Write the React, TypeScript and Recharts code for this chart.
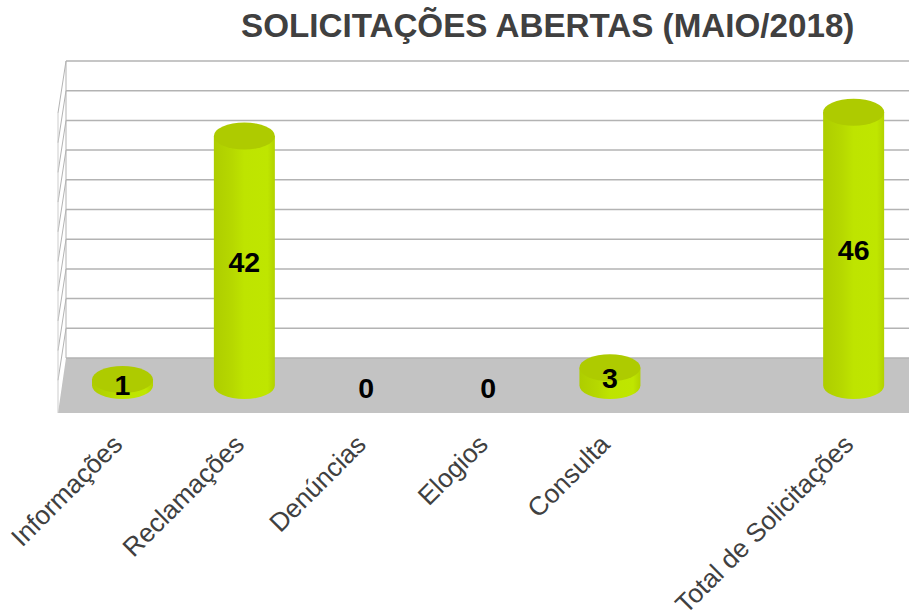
import React from "react";
import { BarChart, Bar, XAxis, YAxis, LabelList, CartesianGrid } from "recharts";

const categories = ["Informações", "Reclamações", "Denúncias", "Elogios", "Consulta", "", "Total de Solicitações"];
const values: (number | null)[] = [1, 42, 0, 0, 3, null, 46];
const yTicks = [0, 5, 10, 15, 20, 25, 30, 35, 40, 45, 50];
const titleText = "SOLICITAÇÕES ABERTAS (MAIO/2018)";

const data = categories.map((name, i) => ({ name, value: values[i] }));

const FONT = '"Liberation Sans", Arial, sans-serif';
const DEPTH = 27.5;
const WALL_X = 66;
const FRONT_X = 58;
const RIGHT = 915;
const GRID = "#b3b3b3";
const TOP = 88.5;
const BOTTOM = 385.5;

function Cylinder(props: any) {
  const { x, y, width, height, value } = props;
  if (value == null || value <= 0) return null;
  const rx = width / 2;
  const ry = 13.5;
  const base = y + height;
  return (
    <g>
      <path
        d={`M${x},${y} L${x},${base} A${rx},${ry} 0 0 0 ${x + width},${base} L${x + width},${y} Z`}
        fill="url(#cylBody)"
      />
      <ellipse cx={x + rx} cy={y} rx={rx} ry={ry} fill="#aecb00" />
    </g>
  );
}

function wallLine(props: any) {
  const y = props.y1;
  const back = y - DEPTH;
  const front = y + DEPTH;
  const isFloor = Math.abs(y - BOTTOM) < 1;
  const isTop = Math.abs(y - TOP) < 1;
  return (
    <g key={`wall-${y}`}>
      {isFloor && (
        <polygon
          points={`${WALL_X},${back} ${RIGHT},${back} ${RIGHT},${front} ${FRONT_X},${front}`}
          fill="#c3c3c3"
        />
      )}
      {isTop && (
        <>
          <line x1={WALL_X} y1={back} x2={WALL_X} y2={back + 297} stroke={GRID} strokeWidth={1} />
          <line x1={FRONT_X} y1={front - 3} x2={FRONT_X} y2={front + 297} stroke="#cccccc" strokeWidth={1} />
        </>
      )}
      <line x1={WALL_X} y1={back} x2={RIGHT} y2={back} stroke={GRID} strokeWidth={1.5} />
      {!isFloor && (
        <line x1={WALL_X} y1={back} x2={FRONT_X} y2={front - 3} stroke={GRID} strokeWidth={1} />
      )}
    </g>
  );
}

function CategoryTick(props: any) {
  const { x, payload } = props;
  if (!payload.value) return null;
  return (
    <text
      x={x + 1}
      y={446}
      transform={`rotate(-45 ${x + 1} 446)`}
      textAnchor="end"
      fontFamily={FONT}
      fontSize={26.2}
      fill="#404040"
    >
      {payload.value}
    </text>
  );
}

function ValueLabel(props: any) {
  const { x, y, width, height, value } = props;
  if (value == null) return null;
  return (
    <text
      x={x + width / 2}
      y={y + height / 2 + (value > 1 ? 1.5 : 2)}
      textAnchor="middle"
      dominantBaseline="central"
      fontFamily={FONT}
      fontWeight={700}
      fontSize={28.5}
      fill="#000"
    >
      {value}
    </text>
  );
}

export default function App() {
  return (
    <div style={{ position: "relative", width: 909, height: 616, overflow: "hidden", background: "#fff" }}>
      <style>{"body{margin:0}"}</style>
      <div
        style={{
          position: "absolute",
          left: 241,
          top: 6,
          fontFamily: FONT,
          fontWeight: 700,
          fontSize: 33.2,
          lineHeight: "40px",
          color: "#404040",
          whiteSpace: "nowrap",
        }}
      >
        {titleText}
      </div>
      <BarChart
        width={915}
        height={616}
        data={data}
        barSize={61}
        margin={{ top: TOP, right: 0, bottom: 0.5, left: 62 }}
        style={{ position: "absolute", left: 0, top: 0 }}
      >
        <defs>
          <linearGradient id="cylBody" x1="0" y1="0" x2="1" y2="0">
            <stop offset="0" stopColor="#aecd00" />
            <stop offset="0.3" stopColor="#b6d800" />
            <stop offset="0.5" stopColor="#bee400" />
            <stop offset="0.88" stopColor="#bfe600" />
            <stop offset="1" stopColor="#b2d200" />
          </linearGradient>
        </defs>
        <CartesianGrid vertical={false} horizontal={wallLine} horizontalValues={yTicks} />
        <XAxis
          dataKey="name"
          height={230}
          interval={0}
          axisLine={false}
          tickLine={false}
          tick={<CategoryTick />}
        />
        <YAxis hide domain={[0, 50]} ticks={yTicks} interval={0} />
        <Bar dataKey="value" isAnimationActive={false} shape={<Cylinder />}>
          <LabelList dataKey="value" content={<ValueLabel />} />
        </Bar>
      </BarChart>
    </div>
  );
}
